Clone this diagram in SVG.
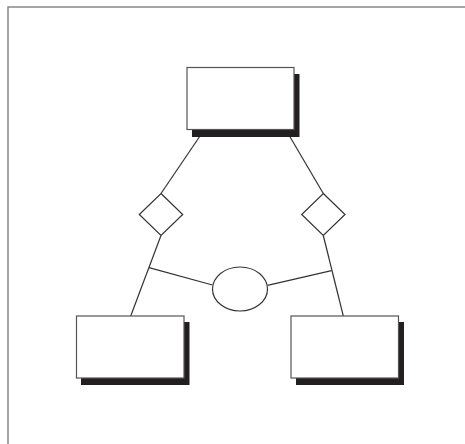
<svg xmlns="http://www.w3.org/2000/svg" width="465" height="444" viewBox="0 0 465 444">
<style>
.box{fill:#fff;stroke:#555;stroke-width:1.2}
.sh{fill:#231f20}
.ln{fill:none;stroke:#333;stroke-width:1.2}
.shape{fill:#fff;stroke:#333;stroke-width:1.2}
</style>
<rect width="465" height="444" fill="#fff"/>
<path d="M8 470 V7 H480" fill="none" stroke="#888" stroke-width="1.5"/>
<g id="connectors">
<line class="ln" x1="200" y1="136" x2="161" y2="193.5"/>
<line class="ln" x1="289.5" y1="136" x2="323.3" y2="193.5"/>
<line class="ln" x1="161" y1="235.5" x2="130.7" y2="316"/>
<line class="ln" x1="323.3" y1="235.5" x2="343.3" y2="316"/>
<line class="ln" x1="149" y1="267.7" x2="212.5" y2="285"/>
<line class="ln" x1="267.5" y1="285.3" x2="331.5" y2="270.7"/>
</g>
<g id="top-box">
<rect class="sh" x="192" y="74" width="107.5" height="63"/>
<rect class="box" x="187" y="67.5" width="107" height="62"/>
</g>
<g id="left-box">
<rect class="sh" x="81" y="322" width="108.5" height="63"/>
<rect class="box" x="76.5" y="316" width="107.5" height="62"/>
</g>
<g id="right-box">
<rect class="sh" x="296" y="322" width="108" height="63"/>
<rect class="box" x="291" y="316" width="107.5" height="62"/>
</g>
<g id="left-diamond">
<polygon class="shape" points="161,193.5 182.7,214.5 161,235.5 139.3,214.5"/>
</g>
<g id="right-diamond">
<polygon class="shape" points="323.3,193.5 345,214.5 323.3,235.5 301.7,214.5"/>
</g>
<g id="ellipse">
<ellipse class="shape" cx="240" cy="289" rx="27.5" ry="22"/>
</g>
</svg>
